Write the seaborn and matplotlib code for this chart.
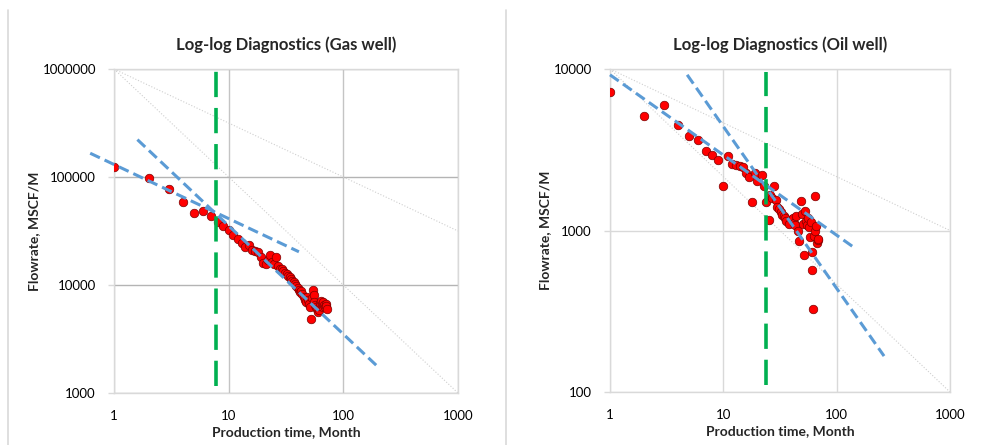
import numpy as np
import pandas as pd
import matplotlib
matplotlib.use("Agg")
import matplotlib.pyplot as plt
from matplotlib.lines import Line2D
from matplotlib.ticker import FixedLocator, FixedFormatter, NullLocator
import seaborn as sns

# ---- Gas well production history ----
gas_month = list(range(1, 73))
gas_rate = [123000, 97000, 78000, 59000, 46500, 48500, 43500, 38000, 35000, 32000,
            29000, 26500, 24500, 22500, 23500, 21000, 20500, 20000, 18000, 16000,
            15500, 17000, 18800, 16500, 15500, 18300, 15000, 14200, 14000, 13500,
            13000, 12600, 12200, 11800, 11400, 11000, 10600, 10200, 9800, 9300,
            9000, 8700, 8800, 8300, 7800, 7200, 6900, 7700, 7300, 6600,
            6300, 4800, 7500, 8900, 8000, 7000, 6500, 6200, 6000, 5600,
            5900, 6400, 6800, 7100, 6600, 6300, 7000, 6500, 6200, 6700,
            6400, 6000]

# ---- Oil well production history ----
oil_month = [1, 2, 3, 4, 5, 6, 7, 8, 9, 10, 11, 12, 13, 14, 15, 16, 17, 18, 19, 20,
             22, 23, 24, 25.5, 26, 27, 28, 29, 30, 31, 32, 33, 34, 35, 36, 38, 40, 41,
             42, 43, 44, 46, 47, 48, 49, 50, 52, 53, 54, 55, 56, 57, 58, 59, 60, 61,
             62, 63, 64, 65, 66, 67, 68, 69]
oil_rate = [7200, 5100, 5950, 4500, 3830, 3650, 3120, 2930, 2720, 1890, 2900, 2570,
            2550, 2520, 2480, 2260, 2130, 1510, 2280, 2020, 2210, 1890, 1510, 1160,
            1660, 1600, 1890, 1550, 1400, 1350, 1310, 1250, 1230, 1200, 1150, 1100,
            1170, 1200, 1120, 1080, 1230, 1000, 865, 1520, 1260, 1100, 705, 1320,
            1150, 1080, 1200, 1050, 916, 1130, 740, 569, 325, 920, 1640, 1000, 1060,
            840, 870, 880]

# ---- Straight-line flow-regime fits (end points) ----
gas_fit_half_t = [0.62, 41]
gas_fit_half_q = [166000, 20300]
gas_fit_unit_t = [1.6, 200]
gas_fit_unit_q = [222000, 1750]
oil_fit_half_t = [1.0, 148]
oil_fit_half_q = [9200, 770]
oil_fit_unit_t = [4.8, 262]
oil_fit_unit_q = [9200, 167]

# ---- End of linear flow ----
gas_break_t = [7.75, 7.75]
gas_break_q = [1150, 950000]
oil_break_t = [24, 24]
oil_break_q = [110, 9600]

# ---- Reference slope guides ----
gas_guide_t = [1, 1000]
gas_guide_a = [1000000, 1000]
gas_guide_b = [1000000, 31623]
oil_guide_t = [1, 1000]
oil_guide_a = [10000, 100]
oil_guide_b = [10000, 1000]

titles = ["Log-log Diagnostics (Gas well)", "Log-log Diagnostics (Oil well)"]
x_ticks = [1, 10, 100, 1000]
gas_y_ticks = [1000, 10000, 100000, 1000000]
oil_y_ticks = [100, 1000, 10000]

sns.set_theme(style="white")
plt.rcParams["font.family"] = ["Lato", "DejaVu Sans"]

fig = plt.figure(figsize=(9.87, 4.45), dpi=100)
ax_gas = fig.add_axes([0.1155, 0.1169, 0.3485, 0.728])
ax_oil = fig.add_axes([0.618, 0.119, 0.3445, 0.726])

light = "#d9d9d9"
blue = "#5b9bd5"
green = "#00b050"

def style_axes(ax, yticks, ylim, grid_y, grid_x):
    ax.set_xscale("log")
    ax.set_yscale("log")
    ax.set_xlim(1, 1000)
    ax.set_ylim(*ylim)
    ax.xaxis.set_major_locator(FixedLocator(x_ticks))
    ax.xaxis.set_major_formatter(FixedFormatter([str(v) for v in x_ticks]))
    ax.xaxis.set_minor_locator(NullLocator())
    ax.yaxis.set_major_locator(FixedLocator(yticks))
    ax.yaxis.set_major_formatter(FixedFormatter([str(v) for v in yticks]))
    ax.yaxis.set_minor_locator(NullLocator())
    ax.grid(True, axis="y", color=grid_y, linewidth=1.0)
    ax.grid(True, axis="x", color=grid_x, linewidth=1.0)
    ax.set_axisbelow(True)
    for s in ax.spines.values():
        s.set_color(light)
        s.set_linewidth(1.0)
    ax.tick_params(axis="y", which="major", length=4, width=1.0, color=light,
                   labelsize=9.5, labelcolor="#000000", pad=9, left=True)
    ax.tick_params(axis="x", which="major", length=0, labelsize=9.5,
                   labelcolor="#000000", pad=12)
    ax.set_xlabel("Production time, Month", fontsize=10, fontweight="bold",
                  labelpad=3)
    ax.set_ylabel("Flowrate, MSCF/M", fontsize=10, fontweight="bold", labelpad=2)

def draw_panel(ax, month, rate, guide_t, guide_a, guide_b,
               half_t, half_q, unit_t, unit_q, brk_t, brk_q, title):
    sns.lineplot(x=guide_t, y=guide_a, ax=ax, color="#cfcfcf", linewidth=0.8,
                 linestyle=":", zorder=1)
    sns.lineplot(x=guide_t, y=guide_b, ax=ax, color="#cfcfcf", linewidth=0.8,
                 linestyle=":", zorder=1)
    sns.scatterplot(x=month, y=rate, ax=ax, color="#ff0000", edgecolor="#7a0000",
                    linewidth=0.5, s=38, zorder=3)
    for t, q in ((half_t, half_q), (unit_t, unit_q)):
        sns.lineplot(x=t, y=q, ax=ax, color=blue, linewidth=2.2, zorder=4)
        ln = ax.lines[-1]
        ln.set_dashes((3.5, 1.7))
        ln.set_clip_on(False)
    sns.lineplot(x=brk_t, y=brk_q, ax=ax, color=green, linewidth=2.6,
                 zorder=5, sort=False, estimator=None)
    ax.lines[-1].set_dashes((7, 3))
    ax.set_title(title, fontsize=12, fontweight="bold", pad=14)

draw_panel(ax_gas, gas_month, gas_rate, gas_guide_t, gas_guide_a, gas_guide_b,
           gas_fit_half_t, gas_fit_half_q, gas_fit_unit_t, gas_fit_unit_q,
           gas_break_t, gas_break_q, titles[0])
style_axes(ax_gas, gas_y_ticks, (1000, 1000000), "#b4b4b4", "#c4c4c4")

draw_panel(ax_oil, oil_month, oil_rate, oil_guide_t, oil_guide_a, oil_guide_b,
           oil_fit_half_t, oil_fit_half_q, oil_fit_unit_t, oil_fit_unit_q,
           oil_break_t, oil_break_q, titles[1])
style_axes(ax_oil, oil_y_ticks, (100, 10000), light, light)

# Chart-area edges of the two panels
for xf in (8 / 987, 506 / 987):
    fig.add_artist(Line2D([xf, xf], [0, 1 - 10 / 445], color=light, linewidth=1.2))

fig.savefig("out.png", dpi=100, facecolor="white")
